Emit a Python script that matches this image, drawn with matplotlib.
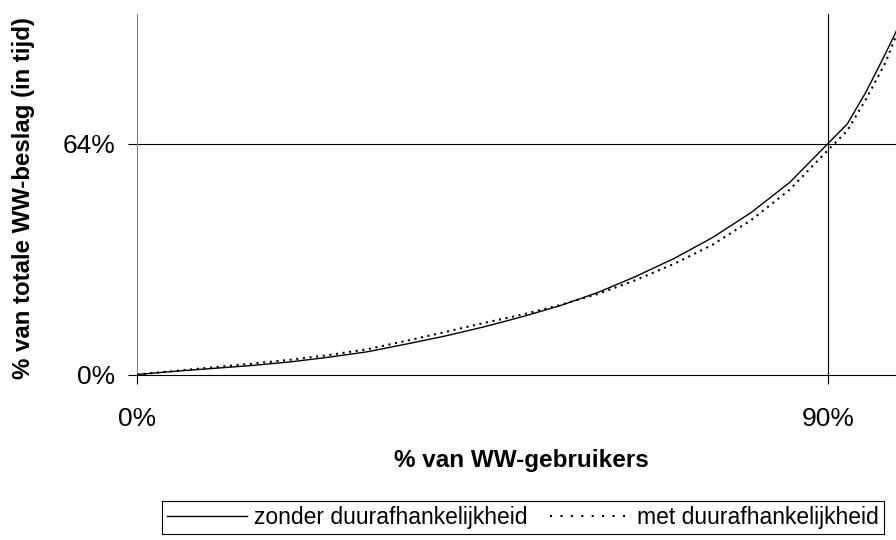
import matplotlib
matplotlib.use("Agg")
import matplotlib.pyplot as plt

# data (percent)
x_pct = [0, 5, 10, 15, 20, 25, 30, 35, 40, 45, 50, 55, 60, 65, 70, 75, 80, 85, 90, 92.5, 95, 97.5, 100]
zonder = [0, 0.9, 1.7, 2.5, 3.5, 4.8, 6.3, 8.4, 10.6, 13.1, 15.9, 19.0, 22.7, 27.2, 32.2, 38.0, 44.9, 53.2, 64.0, 69.4, 78.5, 89.0, 100]
met = [0, 1.0, 2.0, 3.0, 4.1, 5.4, 7.0, 9.3, 11.7, 14.2, 16.5, 19.2, 22.3, 26.2, 30.7, 36.0, 42.8, 51.2, 62.2, 67.5, 76.5, 86.5, 100]

x_ticks = [0, 90]
x_ticklabels = ["0%", "90%"]
y_ticks = [0, 64]
y_ticklabels = ["0%", "64%"]

labels = ["zonder duurafhankelijkheid", "met duurafhankelijkheid"]

plt.rcParams['font.family'] = ['Liberation Sans', 'DejaVu Sans']

W, H = 896, 540
fig = plt.figure(figsize=(W / 100, H / 100), dpi=100)
ax = fig.add_axes([137 / W, (H - 374.5) / H, 767.8 / W, 360.9 / H])

ax.set_xlim(0, 100)
ax.set_ylim(0, 100)

ax.axhline(64, color='black', lw=0.8, zorder=1)
ax.axvline(90, color='black', lw=0.8, zorder=1)

l1, = ax.plot(x_pct, zonder, color='black', lw=1.0, zorder=3)
l2, = ax.plot(x_pct, met, color='black', lw=1.5, linestyle=(0, (1, 2.2)), zorder=2)

for s in ['top', 'right']:
    ax.spines[s].set_visible(False)
ax.spines['left'].set_color('#808080')
ax.spines['left'].set_linewidth(0.8)
ax.spines['bottom'].set_color('black')
ax.spines['bottom'].set_linewidth(0.8)

ax.set_xticks(x_ticks)
ax.set_xticklabels(x_ticklabels)
ax.set_yticks(y_ticks)
ax.set_yticklabels(y_ticklabels)
ax.tick_params(axis='both', direction='out', length=6.5, width=0.8, color='black', labelsize=19)
ax.tick_params(axis='x', pad=17)
ax.tick_params(axis='y', pad=9)
ax.xaxis.get_major_ticks()[0].tick1line.set_color('#808080')

ax.set_xlabel("% van WW-gebruikers", fontsize=17.5, fontweight='bold')
ax.xaxis.label.set_va('center')
ax.xaxis.set_label_coords((521 - 137) / 767.8, (374.5 - 461) / 360.9)
ax.set_ylabel("% van totale WW-beslag (in tijd)", fontsize=17.3, fontweight='bold')
ax.yaxis.label.set_va('center')
ax.yaxis.set_label_coords((24 - 137) / 767.8, (374.5 - 198) / 360.9)

leg = fig.legend([l1, l2], labels, loc='center', bbox_to_anchor=(523 / W, 1 - 517.5 / H),
                 ncol=2, frameon=True, fancybox=False, edgecolor='black', framealpha=1,
                 fontsize=16.5, handlelength=3.5, columnspacing=1.0, handletextpad=0.3,
                 borderpad=0.2, borderaxespad=0)
leg.get_frame().set_linewidth(0.8)
leg.get_lines()[1].set_linestyle((0, (1, 4)))

fig.savefig("out.png", dpi=100)
